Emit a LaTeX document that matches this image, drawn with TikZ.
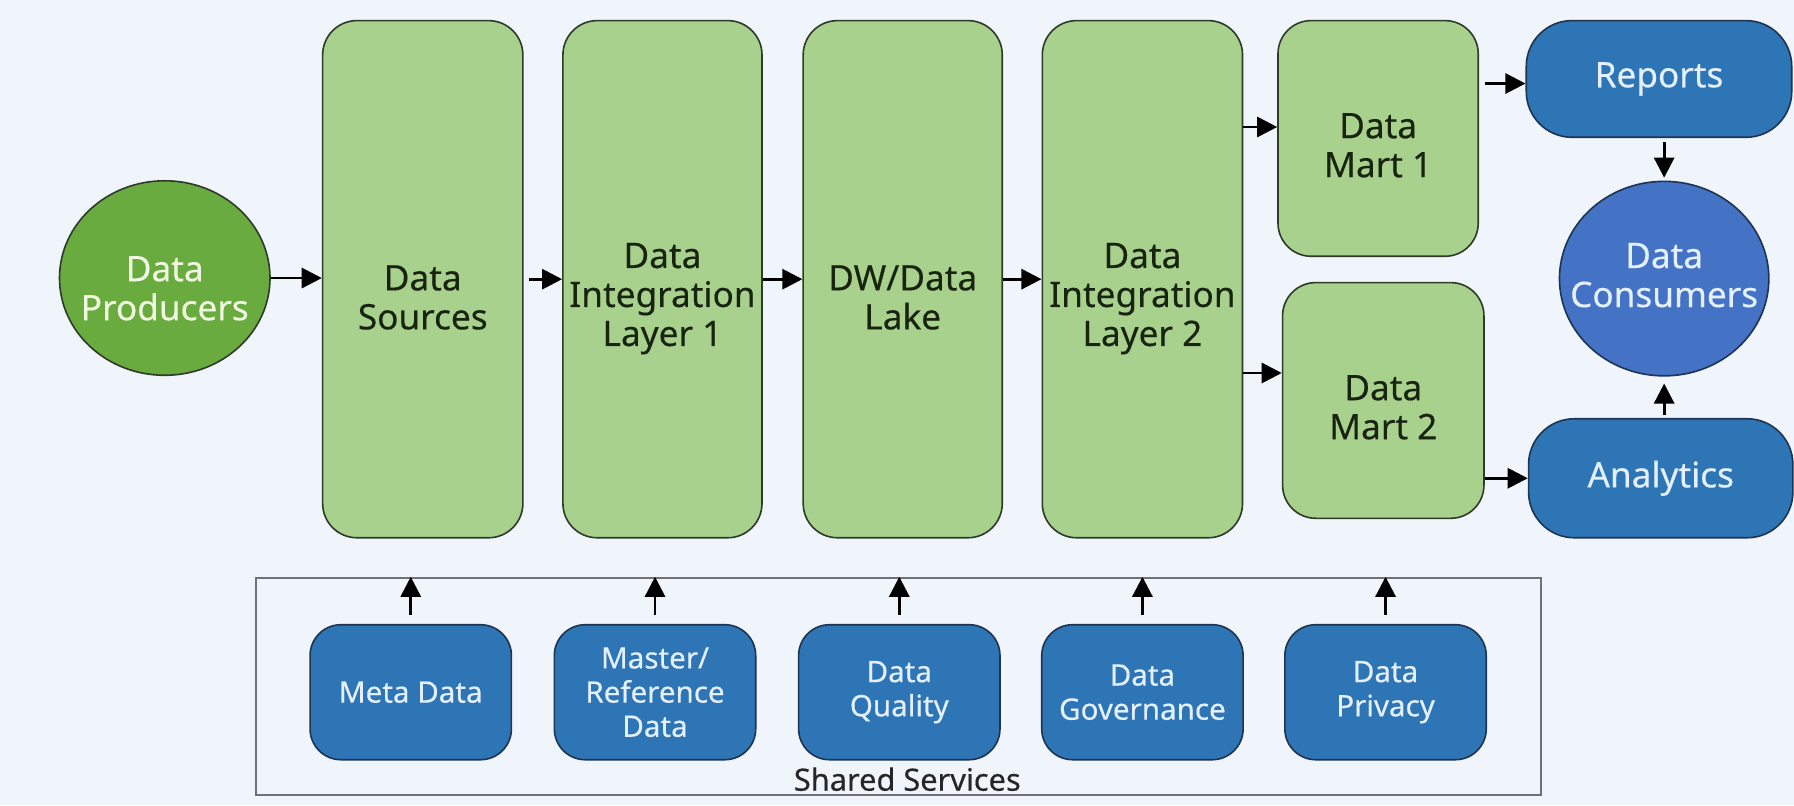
\documentclass[tikz,border=0pt]{standalone}
\usepackage{fontspec}
\setmainfont{Noto Sans}[FakeBold=0.3]
\usetikzlibrary{arrows.meta,shapes.geometric}

\definecolor{bgc}{HTML}{EFF5FB}
\definecolor{lgreen}{HTML}{A9D18E}
\definecolor{dgreen}{HTML}{6AAB40}
\definecolor{boxblue}{HTML}{2E75B6}
\definecolor{circblue}{HTML}{4472C4}
\definecolor{edgeg}{HTML}{2E3A2A}
\definecolor{edgeb}{HTML}{1F3450}
\definecolor{darktxt}{HTML}{18240F}
\definecolor{paletxt}{HTML}{E4F0FF}
\definecolor{creamtxt}{HTML}{F0F8E2}
\definecolor{framegray}{HTML}{6E7276}

% one drawing unit = 0.02cm, y grows downwards
\def\unitpx{0.02cm}

\begin{document}
\begin{tikzpicture}[x=0.02cm,y=-0.02cm,
  stage/.style={draw=edgeg, line width=0.8pt, fill=lgreen, rounded corners=0.6cm, inner sep=0pt},
  stagetxt/.style={text=darktxt, align=center, font=\fontsize{17.5}{19.4}\selectfont},
  roundnode/.style={ellipse, draw=edgeg, line width=0.8pt, inner sep=0pt,
    minimum width=184*\unitpx, minimum height=170*\unitpx},
  outbox/.style={draw=edgeb, line width=0.8pt, fill=boxblue, rounded corners=0.8cm, inner sep=0pt,
    text=paletxt, align=center, font=\fontsize{17.5}{19.4}\selectfont},
  svc/.style={draw=edgeb, line width=0.8pt, fill=boxblue, rounded corners=0.54cm, inner sep=0pt,
    minimum width=176*\unitpx, minimum height=118*\unitpx,
    text=paletxt, align=center, font=\fontsize{14.7}{17}\selectfont},
  flow/.style={-{Triangle[length=10pt,width=10pt]}, line width=1.4pt, black}
]
% canvas
\fill[bgc] (0,0) rectangle (1568,704);

% producers
\node[roundnode, fill=dgreen] (prod) at (144,243) {};
\node[stagetxt, text=creamtxt] (prodT) at ([yshift=-9*\unitpx]prod.center) {Data\\Producers};

% main pipeline stages
\node[stage, minimum width=175*\unitpx, minimum height=452*\unitpx] (src) at (369.5,244) {};
\node[stagetxt] (srcT) at ([yshift=-16*\unitpx]src.center) {Data\\Sources};
\node[stage, minimum width=174*\unitpx, minimum height=452*\unitpx] (dil1) at (579,244) {};
\node[stagetxt] (dil1T) at ([yshift=-17*\unitpx]dil1.center) {Data\\Integration\\Layer 1};
\node[stage, minimum width=174*\unitpx, minimum height=452*\unitpx] (dw) at (789,244) {};
\node[stagetxt] (dwT) at ([yshift=-16*\unitpx]dw.center) {DW/Data\\Lake};
\node[stage, minimum width=175*\unitpx, minimum height=452*\unitpx] (dil2) at (998.5,244) {};
\node[stagetxt] (dil2T) at ([yshift=-17*\unitpx]dil2.center) {Data\\Integration\\Layer 2};

% data marts
\node[stage, rounded corners=0.58cm, minimum width=175*\unitpx, minimum height=206*\unitpx] (dm1) at (1204.5,121) {};
\node[stagetxt] (dm1T) at ([yshift=-6*\unitpx]dm1.center) {Data\\Mart 1};
\node[stage, rounded corners=0.58cm, minimum width=176*\unitpx, minimum height=206*\unitpx] (dm2) at (1209,350) {};
\node[stagetxt] (dm2T) at ([yshift=-6*\unitpx]dm2.center) {Data\\Mart 2};

% outputs and consumers
\node[outbox, minimum width=232*\unitpx, minimum height=102*\unitpx] (rep) at (1450,69) {Reports};
\node[outbox, minimum width=231*\unitpx, minimum height=104*\unitpx] (ana) at (1451.5,418) {Analytics};
\node[roundnode, draw=edgeb, fill=circblue, minimum width=183*\unitpx] (cons) at (1454.5,243.5) {};
\node[stagetxt, text=paletxt] (consT) at ([yshift=3*\unitpx]cons.center) {Data\\Consumers};

% shared services frame
\node[draw=framegray, line width=1pt, minimum width=1123*\unitpx, minimum height=190*\unitpx, inner sep=0pt] (shared) at (785.5,600) {};
\node[text=black!85, font=\fontsize{15.3}{17}\selectfont] (sharedT) at (793,681) {Shared Services};

\node[svc] (meta) at (359,605) {Meta Data};
\node[svc] (master) at (572.5,605) {Master/\\Reference\\Data};
\node[svc] (qual) at (786,605) {Data\\Quality};
\node[svc] (gov) at (998.5,605) {Data\\Governance};
\node[svc] (priv) at (1211,605) {Data\\Privacy};

% pipeline connectors
\draw[flow] (prod.east) -- (prod.east -| src.west);
\draw[flow, shorten <=0.1cm] (src.east) -- (dil1.west);
\draw[flow] (dil1.east) -- (dw.west);
\draw[flow] (dw.east) -- (dil2.west);

\coordinate (m1y) at (0,111);
\coordinate (m2y) at (0,326);
\draw[flow] (dil2.east |- m1y) -- (dm1.west |- m1y);
\draw[flow] (dil2.east |- m2y) -- (dm2.west |- m2y);

\coordinate (ry) at (0,73);
\coordinate (ay) at (0,418);
\draw[flow, shorten <=0.1cm] (dm1.east |- ry) -- (rep.west |- ry);
\draw[flow] (dm2.east |- ay) -- (ana.west |- ay);

\draw[flow, shorten <=0.07cm, shorten >=0.05cm] (cons.north |- rep.south) -- (cons.north);
\draw[flow, shorten <=0.06cm, shorten >=0.12cm] (cons.south |- ana.north) -- (cons.south);

% shared services feed upwards
\foreach \s in {meta,master,qual,gov,priv}
  \draw[flow, shorten <=0.16cm] (\s.north) -- (\s.north |- shared.north);
\end{tikzpicture}
\end{document}
